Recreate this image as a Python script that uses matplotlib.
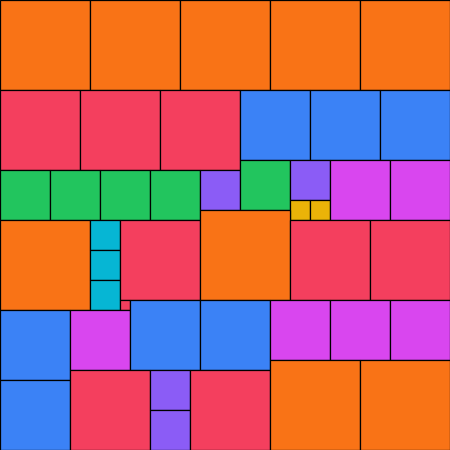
import matplotlib
matplotlib.use("Agg")
import matplotlib.pyplot as plt
from matplotlib.patches import Rectangle

# square packing: left, top, side, colour group
xs = [0, 90, 180, 270, 360,
      0, 80, 160, 240, 310, 380,
      0, 50, 100, 150, 200, 240, 290, 290, 310, 330, 390,
      0, 90, 90, 90, 120, 200, 290, 370,
      120, 0, 0, 70, 130, 200, 270, 330, 390,
      70, 150, 150, 190, 270, 360]
ys = [0, 0, 0, 0, 0,
      90, 90, 90, 90, 90, 90,
      170, 170, 170, 170, 170, 160, 160, 200, 200, 160, 160,
      220, 220, 250, 280, 220, 210, 220, 220,
      300, 310, 380, 310, 300, 300, 300, 300, 300,
      370, 370, 410, 370, 360, 360]
sizes = [90, 90, 90, 90, 90,
         80, 80, 80, 70, 70, 70,
         50, 50, 50, 50, 40, 50, 40, 20, 20, 60, 60,
         90, 30, 30, 30, 80, 90, 80, 80,
         10, 70, 70, 60, 70, 70, 60, 60, 60,
         80, 40, 40, 80, 90, 90]
groups = ["orange"] * 5 + \
    ["red"] * 3 + ["blue"] * 3 + \
    ["green"] * 4 + ["purple", "green", "purple", "yellow", "yellow", "magenta", "magenta"] + \
    ["orange", "cyan", "cyan", "cyan", "red", "orange", "red", "red"] + \
    ["red", "blue", "blue", "magenta", "blue", "blue", "magenta", "magenta", "magenta"] + \
    ["red", "purple", "purple", "red", "orange", "orange"]

palette = {
    "orange": "#f97316",
    "red": "#f43f5e",
    "blue": "#3b82f6",
    "green": "#22c55e",
    "purple": "#8b5cf6",
    "magenta": "#d946ef",
    "cyan": "#06b6d4",
    "yellow": "#eab308",
}

fig = plt.figure(figsize=(4.5, 4.5), dpi=100)
ax = fig.add_axes([0, 0, 1, 1])
for x, y, s, g in zip(xs, ys, sizes, groups):
    ax.add_patch(Rectangle((x, y), s, s, facecolor=palette[g],
                           edgecolor="black", linewidth=0.9))
ax.set_xlim(0, 450)
ax.set_ylim(450, 0)
ax.axis("off")

fig.savefig("out.png", dpi=100)
